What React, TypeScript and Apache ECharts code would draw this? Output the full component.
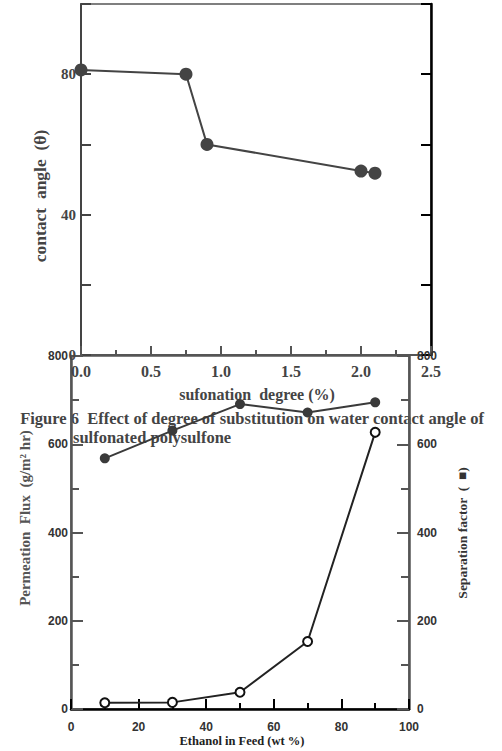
import React, { useEffect, useRef } from "react";
import * as echarts from "echarts";

// Top chart: contact angle vs sulfonation degree
const sulfonationDegree = [0.0, 0.75, 0.9, 2.0, 2.1];
const contactAngle = [81.2, 80.0, 60.0, 52.4, 51.8];

// Bottom chart: ethanol in feed
const ethanolFeed = [10, 30, 50, 70, 90];
const permeationFlux = [568, 631, 691, 672, 695];
const separationFactor = [14, 15, 38, 153, 627];

const topXTicks = [0, 0.5, 1.0, 1.5, 2.0, 2.5];
const bottomXTicks = [0, 20, 40, 60, 80, 100];

const SERIF = "'Liberation Serif', 'Times New Roman', serif";
const SANS = "'Liberation Sans', Arial, sans-serif";

export default function App() {
  const ref = useRef<HTMLDivElement>(null);
  useEffect(() => {
    if (!ref.current) return;
    const chart = echarts.init(ref.current, null, { renderer: "svg" });
    const serifLabel = { fontFamily: SERIF, fontWeight: "bold", fontSize: 16, color: "#444" };
    const sansLabel = { fontFamily: SANS, fontWeight: "bold", fontSize: 12, color: "#333" };
    const option: any = {
      animation: false,
      backgroundColor: "#ffffff",
      grid: [
        { left: 81, top: 4, width: 350, height: 351, show: true, borderColor: "#555", borderWidth: 1.5 },
        { left: 71, top: 356, width: 338, height: 353, show: true, borderColor: "#555", borderWidth: 1.5 },
      ],
      xAxis: [
        {
          gridIndex: 0,
          type: "value",
          min: topXTicks[0],
          max: topXTicks[topXTicks.length - 1],
          interval: 0.5,
          position: "bottom",
          axisLine: { lineStyle: { color: "#555", width: 2 } },
          axisTick: { inside: true, length: 9, lineStyle: { color: "#555", width: 2 } },
          minorTick: { show: true, splitNumber: 2, length: 5, lineStyle: { color: "#555", width: 2 } },
          splitLine: { show: false },
          minorSplitLine: { show: false },
          axisLabel: { ...serifLabel, margin: 8, formatter: (v: number) => v.toFixed(1) },
        },
        {
          gridIndex: 1,
          type: "value",
          min: bottomXTicks[0],
          max: bottomXTicks[bottomXTicks.length - 1],
          interval: 20,
          position: "bottom",
          axisLine: { lineStyle: { color: "#000", width: 2.5 } },
          axisTick: { inside: true, length: 10, lineStyle: { color: "#000", width: 2 } },
          minorTick: { show: true, splitNumber: 2, length: 6, lineStyle: { color: "#000", width: 2 } },
          splitLine: { show: false },
          minorSplitLine: { show: false },
          axisLabel: { ...sansLabel, margin: 12 },
        },
      ],
      yAxis: [
        {
          gridIndex: 0,
          type: "value",
          min: 0,
          max: 100,
          interval: 20,
          position: "left",
          axisLine: { lineStyle: { color: "#444", width: 2 } },
          axisTick: { inside: true, length: 10, lineStyle: { color: "#444", width: 2 } },
          splitLine: { show: false },
          axisLabel: { ...serifLabel, fontSize: 15, margin: 5, formatter: (v: number) => (v % 40 === 0 ? String(v) : "") },
        },
        {
          gridIndex: 0,
          type: "value",
          min: 0,
          max: 100,
          interval: 20,
          position: "right",
          axisLine: { lineStyle: { color: "#000", width: 2.5 } },
          axisTick: { inside: true, length: 10, lineStyle: { color: "#000", width: 2 } },
          splitLine: { show: false },
          axisLabel: { show: false },
        },
        {
          gridIndex: 1,
          type: "value",
          min: 0,
          max: 800,
          interval: 200,
          position: "left",
          axisLine: { lineStyle: { color: "#555", width: 2.5 } },
          axisTick: { inside: true, length: 12, lineStyle: { color: "#555", width: 2 } },
          minorTick: { show: true, splitNumber: 2, length: 8, lineStyle: { color: "#555", width: 2 } },
          splitLine: { show: false },
          minorSplitLine: { show: false },
          axisLabel: { ...sansLabel, margin: 3 },
        },
        {
          gridIndex: 1,
          type: "value",
          min: 0,
          max: 800,
          interval: 200,
          position: "right",
          axisLine: { lineStyle: { color: "#555", width: 2.5 } },
          axisTick: { inside: true, length: 12, lineStyle: { color: "#555", width: 2 } },
          minorTick: { show: true, splitNumber: 2, length: 8, lineStyle: { color: "#555", width: 2 } },
          splitLine: { show: false },
          minorSplitLine: { show: false },
          axisLabel: { ...sansLabel, margin: 8 },
        },
      ],
      series: [
        {
          type: "line",
          xAxisIndex: 0,
          yAxisIndex: 0,
          data: sulfonationDegree.map((x, i) => [x, contactAngle[i]]),
          symbol: "circle",
          symbolSize: 13,
          itemStyle: { color: "#444" },
          lineStyle: { color: "#444", width: 2 },
          z: 5,
        },
        {
          type: "line",
          xAxisIndex: 1,
          yAxisIndex: 2,
          data: ethanolFeed.map((x, i) => [x, permeationFlux[i]]),
          symbol: "circle",
          symbolSize: 10,
          itemStyle: { color: "#3a3a3a" },
          lineStyle: { color: "#3a3a3a", width: 2 },
          z: 5,
        },
        {
          type: "line",
          xAxisIndex: 1,
          yAxisIndex: 3,
          data: ethanolFeed.map((x, i) => [x, separationFactor[i]]),
          symbol: "emptyCircle",
          symbolSize: 9,
          itemStyle: { color: "#111", borderColor: "#111", borderWidth: 2.5 },
          lineStyle: { color: "#222", width: 2 },
          z: 5,
        },
      ],
      graphic: [
        {
          type: "text",
          x: 40,
          y: 196,
          rotation: Math.PI / 2,
          style: { text: "contact  angle  (θ)", font: `bold 17.5px ${SERIF}`, fill: "#444", textAlign: "center", textVerticalAlign: "middle" },
        },
        {
          type: "text",
          x: 257,
          y: 394,
          style: { text: "sufonation  degree (%)", font: `bold 16px ${SERIF}`, fill: "#444", textAlign: "center", textVerticalAlign: "middle" },
        },
        {
          type: "text",
          x: 252,
          y: 418,
          style: { text: "Figure 6  Effect of degree of substitution on water contact angle of", font: `bold 16.5px ${SERIF}`, fill: "#444", textAlign: "center", textVerticalAlign: "middle" },
        },
        {
          type: "text",
          x: 73,
          y: 437,
          style: { text: "sulfonated polysulfone", font: `bold 16.5px ${SERIF}`, fill: "#444", textAlign: "left", textVerticalAlign: "middle" },
        },
        {
          type: "text",
          x: 25,
          y: 518,
          rotation: Math.PI / 2,
          style: { text: "Permeation  Flux  (g/m² hr)", font: `bold 15px ${SERIF}`, fill: "#555", textAlign: "center", textVerticalAlign: "middle" },
        },
        {
          type: "text",
          x: 462,
          y: 533,
          rotation: Math.PI / 2,
          style: { text: "Separation factor  (  ■)", font: `bold 13.5px ${SERIF}`, fill: "#333", textAlign: "center", textVerticalAlign: "middle" },
        },
        {
          type: "text",
          x: 242,
          y: 741,
          style: { text: "Ethanol in Feed (wt %)", font: `bold 12.5px ${SERIF}`, fill: "#222", textAlign: "center", textVerticalAlign: "middle" },
        },
      ],
    };
    chart.setOption(option);
    return () => chart.dispose();
  }, []);
  return <div ref={ref} style={{ position: "fixed", left: 0, top: 0, width: 502, height: 751 }} />;
}
